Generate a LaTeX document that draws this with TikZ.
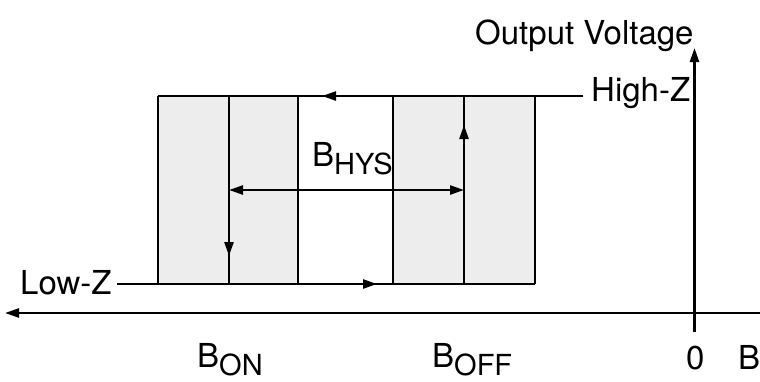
\documentclass[tikz,border=0pt]{standalone}
\usepackage{fontspec}
\setmainfont{TeX Gyre Heros}
\usetikzlibrary{arrows.meta}
\newcommand\lbsub[1]{\raisebox{-8pt}{\fontsize{29}{31}\selectfont #1}}
\begin{document}
\begin{tikzpicture}[x=1pt,y=-1pt,
  ln/.style={line width=2.4pt, line cap=butt},
  arr/.style={ln,-{Triangle[length=14pt,width=9pt]}},
  darr/.style={ln,{Triangle[length=14pt,width=9pt]}-{Triangle[length=14pt,width=9pt]}},
  lbl/.style={inner sep=0pt, anchor=base west, font=\fontsize{33}{39}\selectfont},
  band/.style={fill=black!7, draw=none}]
\useasboundingbox (0,0) rectangle (760,381);
% corner coordinates
\coordinate (b1tl) at (158,96);  \coordinate (b1bl) at (158,284);
\coordinate (b1tm) at (229,96);  \coordinate (b1bm) at (229,284);
\coordinate (b1tr) at (298,96);  \coordinate (b1br) at (298,284);
\coordinate (b2tl) at (393,96);  \coordinate (b2bl) at (393,284);
\coordinate (b2tm) at (464,96);  \coordinate (b2bm) at (464,284);
\coordinate (b2tr) at (535,96);  \coordinate (b2br) at (535,284);
\coordinate (hzEnd) at (583,96);
\coordinate (lzStart) at (117,284);
\coordinate (topTip) at (322,96);
\coordinate (botTip) at (377,284);
\coordinate (downTip) at (229,256);
\coordinate (upTip) at (464,125);
\coordinate (hysL) at (229,190);
\coordinate (hysR) at (464,190);
\coordinate (xaxR) at (760,313);
\coordinate (xaxL) at (5,313);
\coordinate (yaxB) at (694.5,332);
\coordinate (yaxT) at (694.5,48);
% bands
\fill[band] (b1tl) rectangle (b1br);
\fill[band] (b2tl) rectangle (b2br);
% lines
\draw[ln] (hzEnd) -- (b1tl);
\draw[ln] (lzStart) -- (b2br);
\draw[ln] (b1tl) -- (b1bl);
\draw[ln] (b1tr) -- (b1br);
\draw[ln] (b2tl) -- (b2bl);
\draw[ln] (b2tr) -- (b2br);
\draw[ln] (b1tm) -- (b1bm);
\draw[ln] (b2tm) -- (b2bm);
% arrows on the loop
\draw[arr] (b2tl) -- (topTip);
\draw[arr] (b1br) -- (botTip);
\draw[arr] (b1tm) -- (downTip);
\draw[arr] (b2bm) -- (upTip);
\draw[darr] (hysL) -- (hysR);
% axes
\draw[arr] (xaxR) -- (xaxL);
\draw[arr] (yaxB) -- (yaxT);
% labels
\node[lbl] (ov) at (475,44) {Output Voltage};
\node[lbl] (hz) at (591,101) {High-Z};
\node[lbl] (lz) at (20,294) {Low-Z};
\node[lbl] (bhys) at (312,166) {B\lbsub{HYS}};
\node[lbl] (bon) at (197,367) {B\lbsub{ON}};
\node[lbl] (boff) at (432,367) {B\lbsub{OFF}};
\node[lbl] (zero) at (686,369) {0};
\node[lbl] (bax) at (738,369) {B};
\end{tikzpicture}
\end{document}
